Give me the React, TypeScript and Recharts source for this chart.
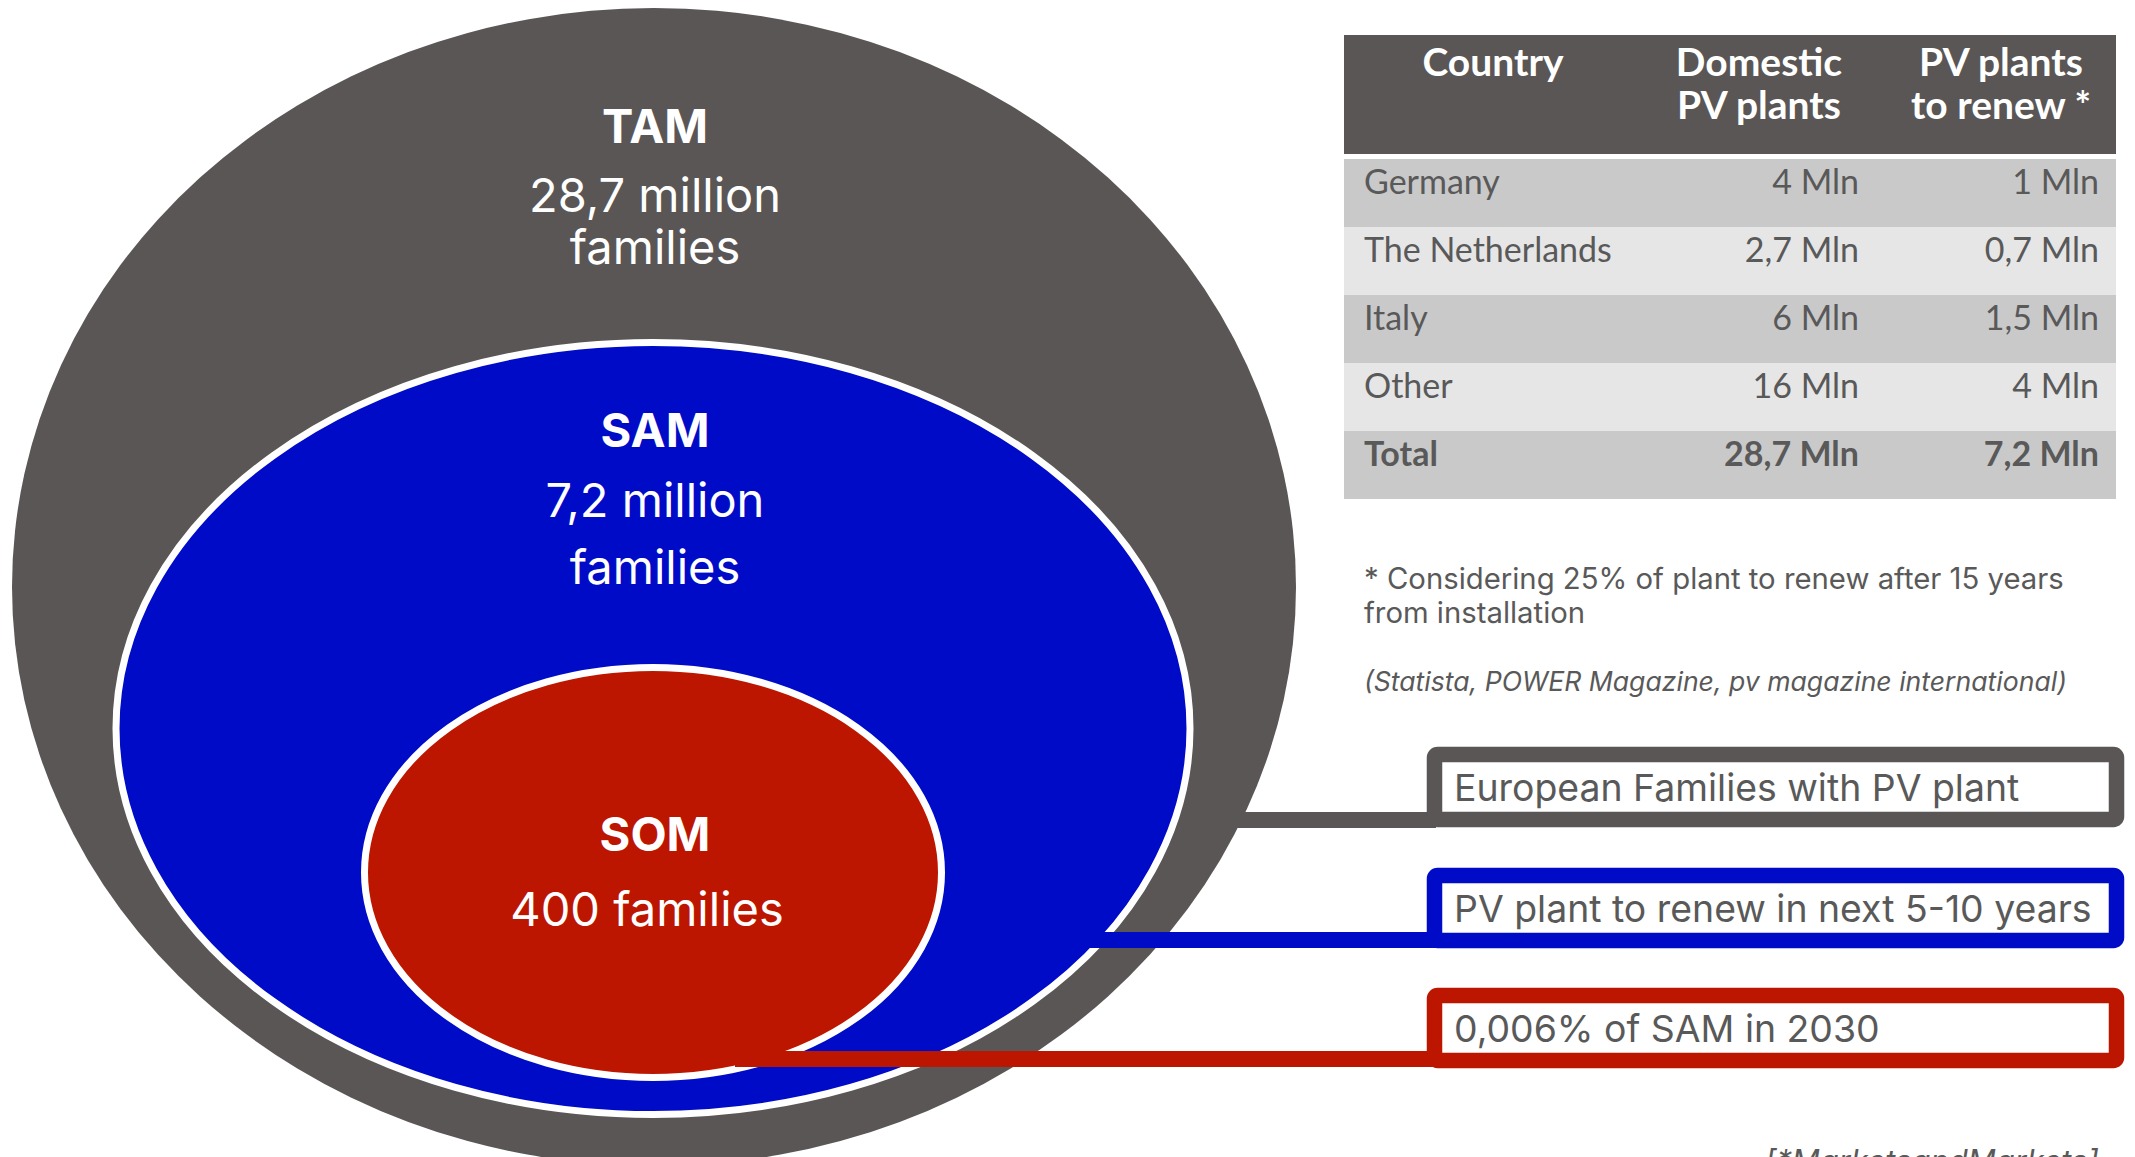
import React from "react";
import { ScatterChart, Scatter, XAxis, YAxis } from "recharts";

// canvas size, one data unit = one pixel
const W = 2135;
const H = 1157;

// market sizing
const markets = ["TAM", "SAM", "SOM"];
const marketLines = [["28,7 million", "families"], ["7,2 million", "families"], ["400 families"]];
const marketNotes = [
  "European Families with PV plant",
  "PV plant to renew in next 5-10 years",
  "0,006% of SAM in 2030",
];

// table
const tableHeader = [["Country"], ["Domestic", "PV plants"], ["PV plants", "to renew *"]];
const countries = ["Germany", "The Netherlands", "Italy", "Other", "Total"];
const domesticPlants = ["4 Mln", "2,7 Mln", "6 Mln", "16 Mln", "28,7 Mln"];
const plantsToRenew = ["1 Mln", "0,7 Mln", "1,5 Mln", "4 Mln", "7,2 Mln"];

const footnote = ["* Considering 25% of plant to renew after 15 years", "from installation"];
const sources = "(Statista, POWER Magazine, pv magazine international)";
const credit = "[*MarketsandMarkets]";

// layout / styles
const COLORS = ["#5a5655", "#000bc8", "#bd1600"];
const TEXT = "#595959";
const FONT = "Inter, 'Noto Sans', sans-serif";
const TABLE_FONT = "Lato, 'Open Sans', sans-serif";

const ellipseLayout = [
  { cx: 654, cy: 587, rx: 642, ry: 579, border: 0, titleDy: -444, lineDy: [-375, -323], titleDx: 1, lineDx: 1 },
  { cx: 653, cy: 728.5, rx: 537, ry: 386, border: 7, titleDy: -281.5, lineDy: [-211.5, -144.5], titleDx: 2, lineDx: 2 },
  { cx: 653, cy: 872.5, rx: 288.5, ry: 205, border: 7, titleDy: -21.5, lineDy: [53.5], titleDx: 2, lineDx: -6 },
];

const connectorLayout = [
  { y: 820, x1: 1215, x2: 1436 },
  { y: 940, x1: 1090, x2: 1436 },
  { y: 1059, x1: 735, x2: 1436 },
];

const boxTops = [747, 868, 988];

const ellipseData = markets.map((name, i) => ({
  name,
  texts: marketLines[i],
  x: ellipseLayout[i].cx,
  y: ellipseLayout[i].cy,
  ...ellipseLayout[i],
  fill: COLORS[i],
}));

const renderEllipse = (props: any) => {
  const { cx, cy, payload } = props;
  return (
    <g>
      <ellipse
        cx={cx}
        cy={cy}
        rx={payload.rx}
        ry={payload.ry}
        fill={payload.fill}
        stroke="#fff"
        strokeWidth={payload.border}
      />
      <text x={cx + payload.titleDx} y={cy + payload.titleDy} textAnchor="middle" fill="#fff" fontFamily={FONT} fontSize={47} fontWeight={700}>
        {payload.name}
      </text>
      {payload.texts.map((t: string, j: number) => (
        <text key={j} x={cx + payload.lineDx} y={cy + payload.lineDy[j]} textAnchor="middle" fill="#fff" fontFamily={FONT} fontSize={47}>
          {t}
        </text>
      ))}
    </g>
  );
};

const noDot = () => <g />;

const colCenters = [1493, 1759, 2001];
const ROW_TOP = 159;
const ROW_H = 68;

export default function App() {
  return (
    <div style={{ position: "absolute", left: 0, top: 0, width: W, height: H, overflow: "hidden", background: "#fff" }}>
      <ScatterChart width={W} height={H} margin={{ top: 0, right: 0, bottom: 0, left: 0 }}>
        <XAxis type="number" dataKey="x" domain={[0, W]} allowDataOverflow hide />
        <YAxis type="number" dataKey="y" domain={[0, H]} allowDataOverflow reversed hide />
        <Scatter data={ellipseData} shape={renderEllipse} isAnimationActive={false} />
        {connectorLayout.map((c, i) => (
          <Scatter
            key={markets[i]}
            data={[{ x: c.x1, y: c.y }, { x: c.x2, y: c.y }]}
            fill={COLORS[i]}
            line={{ stroke: COLORS[i], strokeWidth: 16 }}
            lineType="joint"
            shape={noDot}
            isAnimationActive={false}
          />
        ))}
      </ScatterChart>

      <svg width={W} height={H} style={{ position: "absolute", left: 0, top: 0, pointerEvents: "none" }}>
        {/* table */}
        <rect x={1344} y={35} width={772} height={119} fill={COLORS[0]} />
        {tableHeader.map((lines, c) =>
          lines.map((t, j) => (
            <text key={`${c}-${j}`} x={colCenters[c]} y={76 + j * 43} textAnchor="middle" fill="#fff" fontFamily={TABLE_FONT} fontWeight={700} fontSize={39}>
              {t}
            </text>
          ))
        )}
        {countries.map((country, i) => {
          const top = ROW_TOP + i * ROW_H;
          const bold = i === countries.length - 1 ? 700 : 400;
          return (
            <g key={country}>
              <rect x={1344} y={top} width={772} height={ROW_H} fill={i % 2 === 0 ? "#c9c9c9" : "#e6e6e6"} />
              <text x={1364} y={top + 35} fill={TEXT} fontFamily={TABLE_FONT} fontSize={34} fontWeight={bold}>
                {country}
              </text>
              <text x={1859} y={top + 35} textAnchor="end" fill={TEXT} fontFamily={TABLE_FONT} fontSize={34} fontWeight={bold}>
                {domesticPlants[i]}
              </text>
              <text x={2099} y={top + 35} textAnchor="end" fill={TEXT} fontFamily={TABLE_FONT} fontSize={34} fontWeight={bold}>
                {plantsToRenew[i]}
              </text>
            </g>
          );
        })}

        {/* notes */}
        {footnote.map((t, i) => (
          <text key={i} x={1364} y={589 + i * 34} fill={TEXT} fontFamily={FONT} fontSize={29.3}>
            {t}
          </text>
        ))}
        <text x={1364} y={691} fill={TEXT} fontFamily={FONT} fontSize={26.6} fontStyle="italic">
          {sources}
        </text>

        {/* label boxes */}
        {marketNotes.map((note, i) => (
          <g key={note}>
            <rect x={1434.5} y={boxTops[i] + 7.5} width={682} height={65} rx={3} fill="#fff" stroke={COLORS[i]} strokeWidth={15.5} />
            <text x={1454} y={boxTops[i] + 54} fill={TEXT} fontFamily={FONT} fontSize={37.4}>
              {note}
            </text>
          </g>
        ))}

        <text x={1765} y={1172} fill={TEXT} fontFamily={FONT} fontSize={31} fontStyle="italic">
          {credit}
        </text>
      </svg>
    </div>
  );
}
